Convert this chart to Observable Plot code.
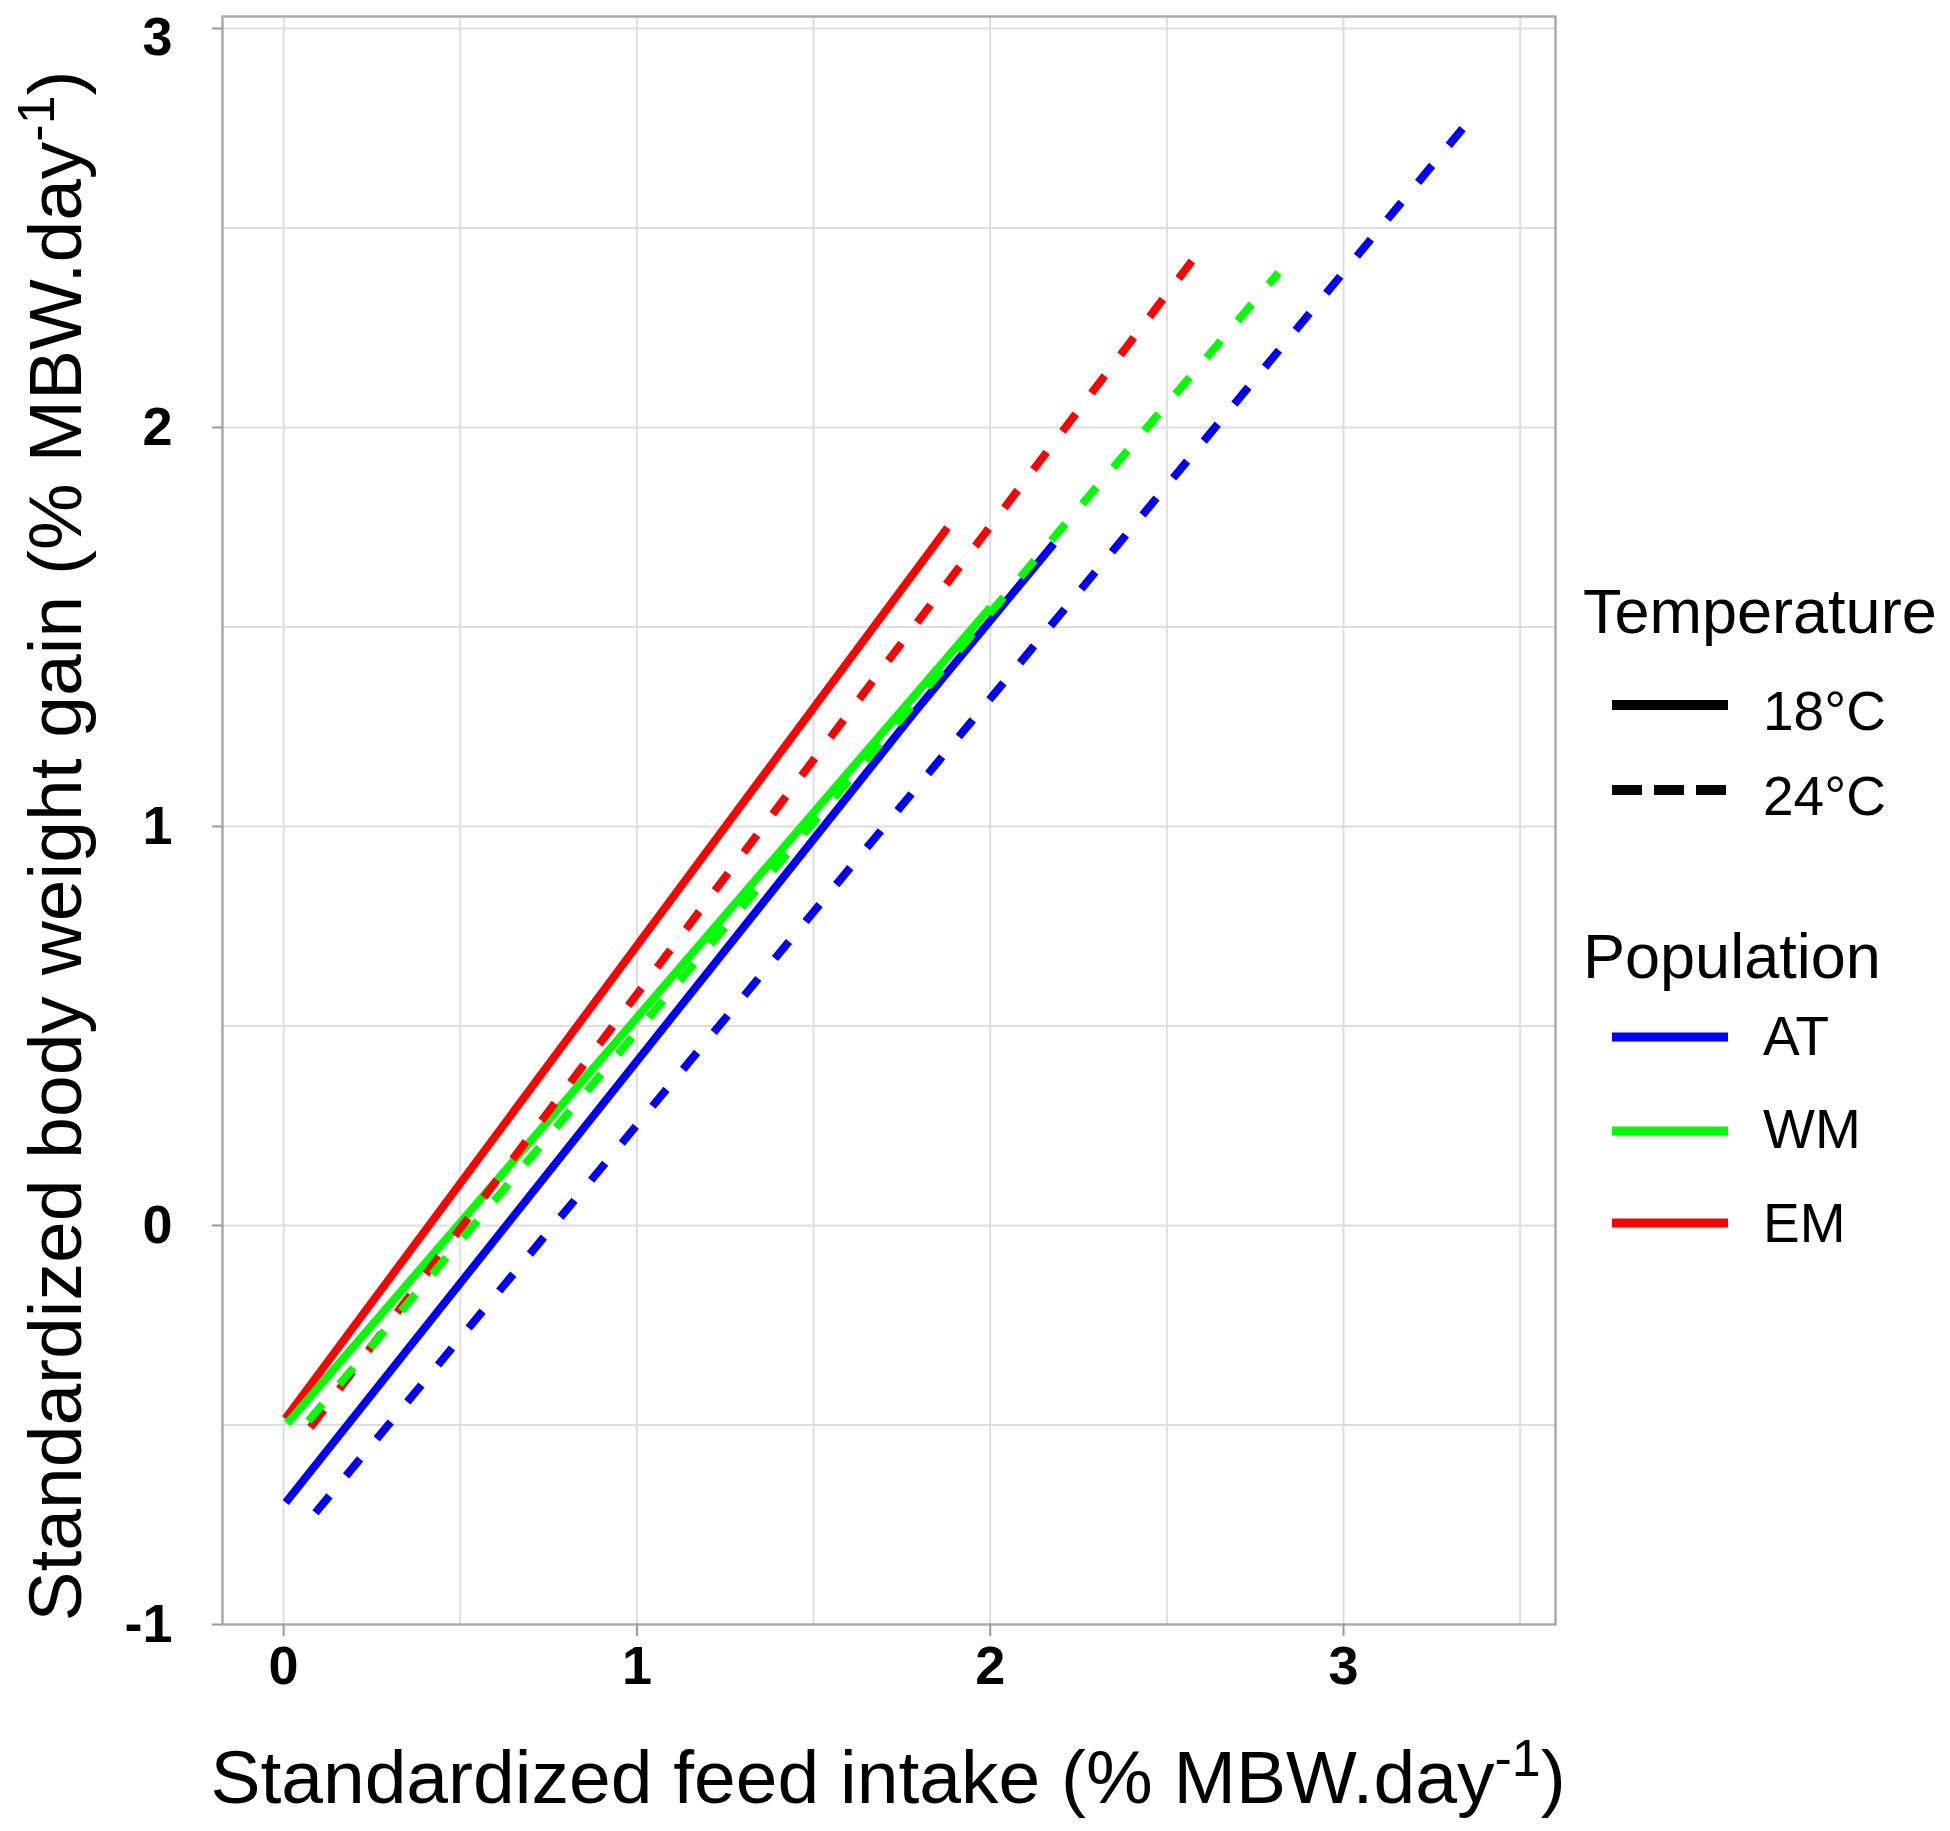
<!DOCTYPE html>
<html><head><meta charset="utf-8">
<script src="https://cdn.jsdelivr.net/npm/d3@7"></script>
<script src="https://cdn.jsdelivr.net/npm/@observablehq/plot@0.6"></script>
<style>body{margin:0;background:#fff} #chart{width:1950px;height:1831px}</style>
</head><body><div id="chart"></div>
<script>
// ---- data ----
const populations = ["AT", "WM", "EM"];
const popColors = ["#0000ff", "#00ff00", "#ff0000"];
const temperatures = ["18°C", "24°C"];

// 18°C (solid)
const at18x = [0.006, 1.783, 2.18],  at18y = [-0.694, 1.283, 1.709];
const wm18x = [0.01, 2.0],           wm18y = [-0.496, 1.549];
const em18x = [0.005, 1.879],        em18y = [-0.484, 1.749];
// 24°C (dashed)
const at24x = [0.09, 2.015, 3.337],  at24y = [-0.72, 1.336, 2.749];
const wm24x = [0.07, 2.213, 2.816],  wm24y = [-0.49, 1.759, 2.388];
const em24x = [0.076, 1.727, 2.587], em24y = [-0.506, 1.434, 2.436];

const xTicks = [0, 1, 2, 3];
const yTicks = [-1, 0, 1, 2, 3];
const yTopTick = [3];
const xGrid = [0, 0.5, 1, 1.5, 2, 2.5, 3, 3.5];
const yGrid = [-0.5, 0, 0.5, 1, 1.5, 2, 2.5, 3];

const xTitle = "Standardized feed intake (% MBW.day";
const yTitle = "Standardized body weight gain (% MBW.day";
const supText = "-1";
const tempTitle = "Temperature";
const popTitle = "Population";

function rows(pop, temp, xs, ys) { return xs.map((x, i) => ({pop, temp, x, y: ys[i]})); }
const data = [
  ...rows("AT", "18°C", at18x, at18y), ...rows("EM", "18°C", em18x, em18y), ...rows("WM", "18°C", wm18x, wm18y),
  ...rows("AT", "24°C", at24x, at24y), ...rows("EM", "24°C", em24x, em24y), ...rows("WM", "24°C", wm24x, wm24y)
];

const FONT = "'Liberation Sans', Arial, Helvetica, sans-serif";
const axisStyle = {fontSize: 54, fontWeight: "bold", stroke: "#9a9a9a", strokeWidth: 2, fill: "black", label: null};

const plot = Plot.plot({
  width: 1950, height: 1831,
  marginLeft: 222, marginRight: 395, marginTop: 16, marginBottom: 207,
  style: {fontFamily: FONT, background: "white"},
  x: {domain: [-0.173, 3.60]},
  y: {domain: [-1, 3.03]},
  color: {domain: populations, range: popColors},
  marks: [
    Plot.ruleX(xGrid, {stroke: "#dedede", strokeWidth: 2}),
    Plot.ruleY(yGrid, {stroke: "#dedede", strokeWidth: 2}),
    Plot.frame({stroke: "#ababab", strokeWidth: 2.5}),
    Plot.axisX({...axisStyle, ticks: xTicks, tickSize: 12, tickPadding: 9, tickFormat: d => String(d)}),
    Plot.axisY({...axisStyle, ticks: yTicks, tickSize: 10, tickPadding: 40,
      tickFormat: d => (yTopTick.includes(d) ? "" : String(d))}),
    Plot.text(yTopTick, {y: d => d, text: d => String(d), frameAnchor: "left", dx: -50, dy: 9,
      textAnchor: "end", fontSize: 54, fontWeight: "bold", fill: "black"}),
    Plot.line(data.filter(d => d.temp === temperatures[0]),
      {x: "x", y: "y", z: "pop", stroke: "pop", strokeWidth: 8, strokeLinecap: "butt"}),
    Plot.line(data.filter(d => d.temp === temperatures[1]),
      {x: "x", y: "y", z: "pop", stroke: "pop", strokeWidth: 8, strokeLinecap: "butt", strokeDasharray: "22,26"})
  ]
});
document.getElementById("chart").appendChild(plot);

const svg = d3.select(plot);
const color = d3.scaleOrdinal(populations, popColors);

// axis titles with superscript
function title(g, text) {
  g.append("tspan").text(text);
  g.append("tspan").attr("font-size", 52).attr("dy", -27).text(supText);
  g.append("tspan").attr("dy", 27).text(")");
}
const xt = svg.append("text").attr("x", 888).attr("y", 1803).attr("text-anchor", "middle")
  .attr("font-family", FONT).attr("font-size", 75).attr("fill", "black");
title(xt, xTitle);
const yt = svg.append("text").attr("transform", "translate(81,846) rotate(-90)").attr("text-anchor", "middle")
  .attr("font-family", FONT).attr("font-size", 75).attr("fill", "black");
title(yt, yTitle);

// legends
const lg = svg.append("g").attr("font-family", FONT).attr("fill", "black").attr("text-anchor", "start");
lg.append("text").attr("x", 1583).attr("y", 633).attr("font-size", 63).text(tempTitle);
const tKeyY = [705, 790], tLabY = [730, 815];
temperatures.forEach((t, i) => {
  lg.append("line").attr("x1", 1612).attr("x2", 1728).attr("y1", tKeyY[i]).attr("y2", tKeyY[i])
    .attr("stroke", "black").attr("stroke-width", 10)
    .attr("stroke-dasharray", i === 1 ? "30,12" : null);
  lg.append("text").attr("x", 1763).attr("y", tLabY[i]).attr("font-size", 55).text(t);
});
lg.append("text").attr("x", 1583).attr("y", 978).attr("font-size", 63).text(popTitle);
const pKeyY = [1037, 1131, 1223], pLabY = [1055, 1148, 1242];
populations.forEach((p, i) => {
  lg.append("line").attr("x1", 1612).attr("x2", 1728).attr("y1", pKeyY[i]).attr("y2", pKeyY[i])
    .attr("stroke", color(p)).attr("stroke-width", 9);
  lg.append("text").attr("x", 1763).attr("y", pLabY[i]).attr("font-size", 55).text(p);
});
</script>
</body></html>
